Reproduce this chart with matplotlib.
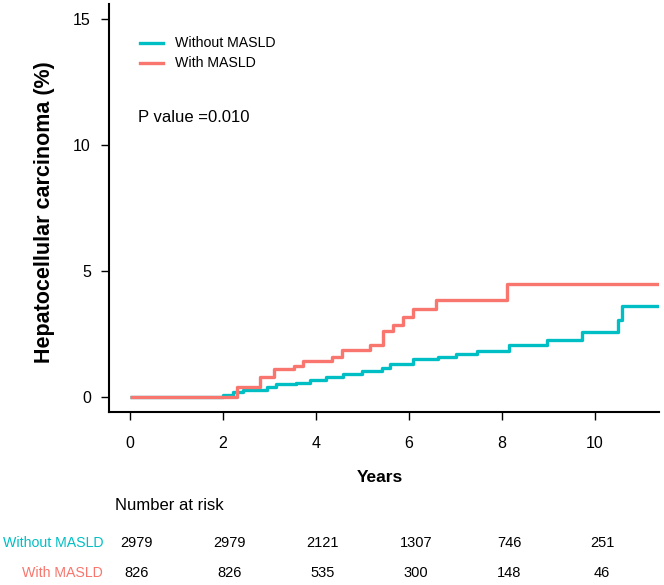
import matplotlib
matplotlib.use("Agg")
import matplotlib.pyplot as plt
from matplotlib.lines import Line2D
import matplotlib.transforms as mtransforms

plt.rcParams['font.family'] = ['Liberation Sans', 'DejaVu Sans']

# ---- data ----
without_t = [0, 1.99, 2.22, 2.44, 2.94, 3.15, 3.58, 3.87, 4.21, 4.59, 4.98, 5.41, 5.59,
             6.09, 6.63, 7.01, 7.47, 8.16, 8.97, 9.71, 10.50, 10.59, 11.38]
without_y = [0, 0.08, 0.21, 0.28, 0.41, 0.50, 0.57, 0.67, 0.81, 0.90, 1.03, 1.14, 1.33,
             1.50, 1.57, 1.69, 1.81, 2.06, 2.26, 2.59, 3.06, 3.62, 3.62]
with_t = [0, 2.29, 2.80, 3.10, 3.53, 3.73, 4.35, 4.55, 5.16, 5.45, 5.66, 5.86, 6.08, 6.59, 8.10, 11.38]
with_y = [0, 0.41, 0.81, 1.11, 1.24, 1.44, 1.60, 1.87, 2.06, 2.62, 2.86, 3.16, 3.48, 3.86, 4.47, 4.47]

risk_times = [0, 2, 4, 6, 8, 10]
risk_without = [2979, 2979, 2121, 1307, 746, 251]
risk_with = [826, 826, 535, 300, 148, 46]

labels = ["Without MASLD", "With MASLD"]
colors = ["#00BFC4", "#F8766D"]
p_text = "P value =0.010"

W, H = 664, 585
fig = plt.figure(figsize=(W / 100, H / 100), dpi=100)

def fx(px):
    return px / W

def fy(py):
    return 1 - py / H

ax = fig.add_axes([fx(109), fy(412), fx(659) - fx(109), fy(4) - fy(412)])
ax.step(without_t, without_y, where='post', color=colors[0], lw=2.4, solid_capstyle='butt')
ax.step(with_t, with_y, where='post', color=colors[1], lw=2.4, solid_capstyle='butt')

ax.set_xlim(-0.452, 11.376)
ax.set_ylim(-0.595, 15.6)
ax.set_xticks([0, 2, 4, 6, 8, 10])
ax.set_yticks([0, 5, 10, 15])
for s in ['top', 'right']:
    ax.spines[s].set_visible(False)
for s in ['left', 'bottom']:
    ax.spines[s].set_linewidth(1.5)
ax.tick_params(axis='both', direction='out', length=6, width=1, labelsize=11.5)
ax.tick_params(axis='y', pad=7)
ax.tick_params(axis='x', pad=11)

fig.text(fx(45), fy(212), "Hepatocellular carcinoma (%)", rotation=90, ha='center', va='center',
         fontsize=15.5, fontweight='bold')
fig.text(fx(380), fy(477), "Years", ha='center', va='center', fontsize=12.5, fontweight='bold')

# legend (manual)
for i, (lab, c) in enumerate(zip(labels, colors)):
    yy = fy(43 + 20 * i)
    fig.add_artist(Line2D([fx(140), fx(163)], [yy, yy], color=c, lw=2.4, transform=fig.transFigure))
    fig.text(fx(175), yy, lab, ha='left', va='center', fontsize=10.2)

fig.text(fx(138), fy(117), p_text, ha='left', va='center', fontsize=12)

# number at risk table
fig.text(fx(115), fy(506), "Number at risk", ha='left', va='center', fontsize=12)
trans = mtransforms.blended_transform_factory(ax.transData, fig.transFigure)
rows = [risk_without, risk_with]
row_y = [543, 573]
for lab, c, vals, ry in zip(labels, colors, rows, row_y):
    fig.text(fx(103), fy(ry), lab, ha='right', va='center', fontsize=10.2, color=c)
    for t, v in zip(risk_times, vals):
        ax.text(t + 0.15, fy(ry), str(v), transform=trans, ha='center', va='center',
                fontsize=10.5, clip_on=False)

fig.savefig("out.png", dpi=100)
